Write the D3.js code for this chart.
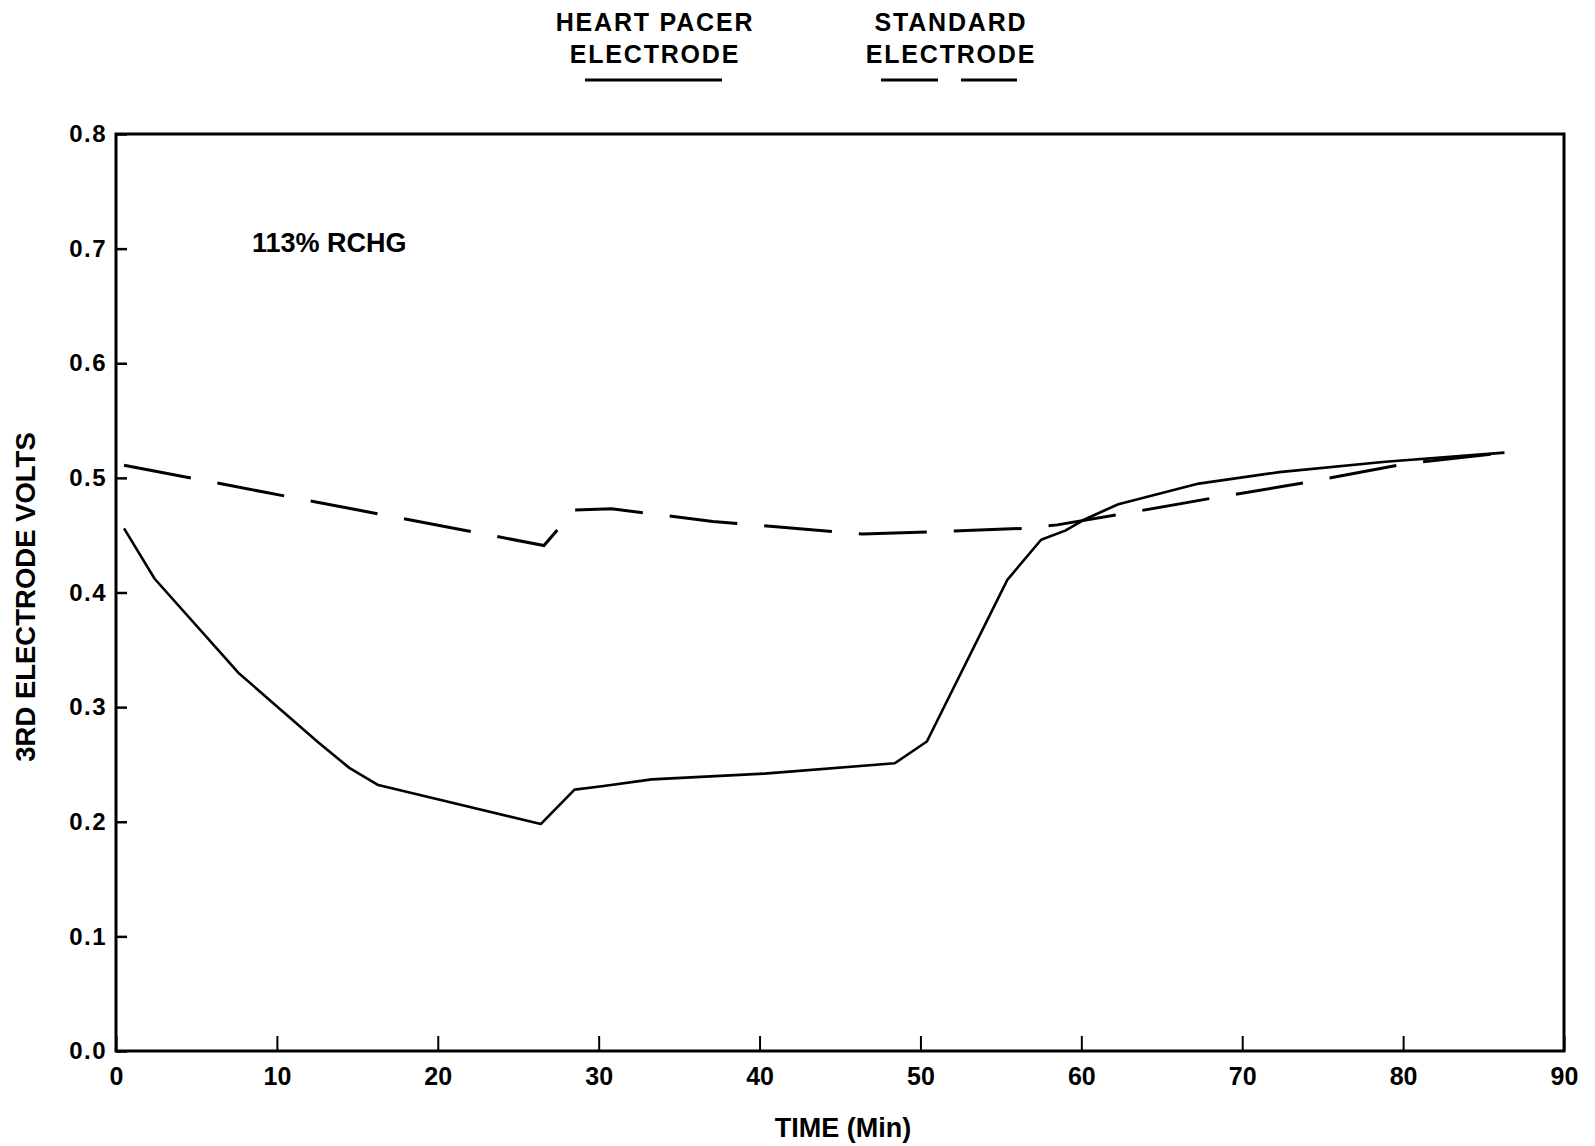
<!DOCTYPE html>
<html>
<head>
<meta charset="utf-8">
<script src="https://d3js.org/d3.v7.min.js"></script>
<style>
  body { margin: 0; background: #fff; }
  text { font-family: "Liberation Sans", Arial, sans-serif; font-weight: bold; fill: #000; }
</style>
</head>
<body>
<script>
// heart pacer electrode (solid line)
const pacerTime  = [0.5, 2.4, 7.6, 12.6, 14.5, 16.3, 26.4, 28.5, 30.2, 33.3, 40.3, 48.4, 50.4, 55.4, 57.5, 59.0, 60.1, 61.5, 62.3, 67.3, 72.3, 78.9, 86.3];
const pacerVolts = [0.456, 0.412, 0.330, 0.269, 0.247, 0.232, 0.198, 0.228, 0.231, 0.237, 0.242, 0.251, 0.270, 0.411, 0.446, 0.454, 0.463, 0.472, 0.477, 0.495, 0.505, 0.514, 0.522];

// standard electrode (dashed line)
const standardTime  = [0.5, 26.6, 28.5, 30.8, 37.1, 46.4, 51.0, 56.5, 58.5, 62.3, 68.0, 74.0, 80.0, 86.3];
const standardVolts = [0.511, 0.441, 0.472, 0.473, 0.462, 0.451, 0.453, 0.456, 0.459, 0.468, 0.482, 0.496, 0.512, 0.522];

const xTicks = [0, 10, 20, 30, 40, 50, 60, 70, 80, 90];
const yTicks = [0.0, 0.1, 0.2, 0.3, 0.4, 0.5, 0.6, 0.7, 0.8];

const width = 1595, height = 1146;

const svg = d3.select('body').append('svg')
    .attr('width', width)
    .attr('height', height);

const x = d3.scaleLinear().domain([0, 90]).range([116, 1564]);
const y = d3.scaleLinear().domain([0, 0.8]).range([1051, 134]);

// frame
svg.append('rect')
    .attr('x', x(0))
    .attr('y', y(0.8))
    .attr('width', x(90) - x(0))
    .attr('height', y(0) - y(0.8))
    .attr('fill', 'none')
    .attr('stroke', '#000')
    .attr('stroke-width', 3);

const xAxis = d3.axisBottom(x)
    .tickValues(xTicks)
    .tickFormat(d3.format('d'))
    .tickSizeInner(-15)
    .tickSizeOuter(0)
    .tickPadding(16);

const gx = svg.append('g')
    .attr('transform', `translate(0,${y(0)})`)
    .call(xAxis);
gx.select('.domain').remove();
gx.selectAll('line').attr('stroke-width', 2);
gx.selectAll('text').style('font-size', '25px');

const yAxis = d3.axisLeft(y)
    .tickValues(yTicks)
    .tickFormat(d3.format('.1f'))
    .tickSizeInner(-11)
    .tickSizeOuter(0)
    .tickPadding(9);

const gy = svg.append('g')
    .attr('transform', `translate(${x(0)},0)`)
    .call(yAxis);
gy.select('.domain').remove();
gy.selectAll('line').attr('stroke-width', 2.5);
gy.selectAll('text').style('font-size', '24px').style('letter-spacing', '1.5px');

const line = d3.line()
    .x(d => x(d[0]))
    .y(d => y(d[1]));

svg.append('path')
    .datum(pacerTime.map((t, i) => [t, pacerVolts[i]]))
    .attr('d', line)
    .attr('fill', 'none')
    .attr('stroke', '#000')
    .attr('stroke-width', 2.6)
    .attr('stroke-linejoin', 'round');

svg.append('path')
    .datum(standardTime.map((t, i) => [t, standardVolts[i]]))
    .attr('d', line)
    .attr('fill', 'none')
    .attr('stroke', '#000')
    .attr('stroke-width', 3)
    .attr('stroke-dasharray', '68,27');

// legend
const legend = svg.append('g')
    .style('font-size', '25px')
    .style('letter-spacing', '1.8px');
legend.append('text').attr('x', 655).attr('y', 31).attr('text-anchor', 'middle').text('HEART PACER');
legend.append('text').attr('x', 655).attr('y', 63).attr('text-anchor', 'middle').text('ELECTRODE');
legend.append('line').attr('x1', 585).attr('x2', 722).attr('y1', 80).attr('y2', 80)
    .attr('stroke', '#000').attr('stroke-width', 3);

legend.append('text').attr('x', 951).attr('y', 31).attr('text-anchor', 'middle').text('STANDARD');
legend.append('text').attr('x', 951).attr('y', 63).attr('text-anchor', 'middle').text('ELECTRODE');
legend.append('line').attr('x1', 881).attr('x2', 1017).attr('y1', 80).attr('y2', 80)
    .attr('stroke', '#000').attr('stroke-width', 3)
    .attr('stroke-dasharray', '57,23');

// annotation
svg.append('text')
    .attr('x', 252).attr('y', 252)
    .style('font-size', '27px')
    .text('113% RCHG');

// axis titles
svg.append('text')
    .attr('x', 843).attr('y', 1137)
    .attr('text-anchor', 'middle')
    .style('font-size', '27px')
    .text('TIME (Min)');

svg.append('text')
    .attr('transform', 'translate(35,597) rotate(-90)')
    .attr('text-anchor', 'middle')
    .style('font-size', '27.5px')
    .text('3RD ELECTRODE VOLTS');
</script>
</body>
</html>
